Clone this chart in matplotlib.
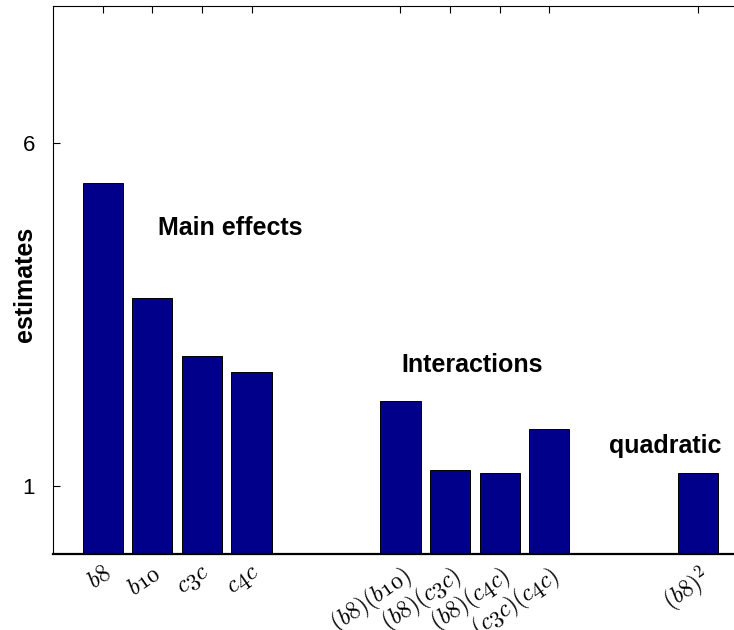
import matplotlib
matplotlib.use('Agg')
import matplotlib.pyplot as plt

# factor estimates, grouped: main effects / interactions / quadratic
labels = [r'$\mathsf{b8}$', r'$\mathsf{b10}$', r'$\mathsf{c3c}$', r'$\mathsf{c4c}$',
          r'$(\mathsf{b8})(\mathsf{b10})$', r'$(\mathsf{b8})(\mathsf{c3c})$',
          r'$(\mathsf{b8})(\mathsf{c4c})$', r'$(\mathsf{c3c})(\mathsf{c4c})$',
          r'$(\mathsf{b8})^2$']
positions = [1, 2, 3, 4, 7, 8, 9, 10, 13]
estimates = [5.42, 3.73, 2.89, 2.66, 2.24, 1.23, 1.18, 1.82, 1.18]

plt.rcParams['font.family'] = ['Liberation Sans', 'DejaVu Sans']
plt.rcParams['mathtext.fontset'] = 'custom'
plt.rcParams['mathtext.rm'] = 'cmr10'
plt.rcParams['mathtext.sf'] = 'cmmi10'
plt.rcParams['mathtext.it'] = 'cmmi10'

fig = plt.figure(figsize=(7.34, 6.30), dpi=100)
ax = fig.add_axes([53 / 734, 76 / 630, 681 / 734, 548 / 630])

ax.bar(positions, estimates, width=0.81, color='#00008b', edgecolor='black', linewidth=0.7)

ax.set_xlim(0, 13.72)
ax.set_ylim(0, 8)
ax.set_yticks([1, 6])
ax.set_xticks(positions)
ax.set_xticklabels(labels, rotation=35, ha='right', va='top', rotation_mode='anchor', fontsize=17)

ax.tick_params(axis='x', bottom=False, top=True, direction='in', length=4.8, width=0.8, pad=6)
ax.tick_params(axis='y', left=True, right=False, direction='in', length=4.8, width=0.8,
               pad=13, labelsize=16)

ax.spines['right'].set_visible(False)
ax.spines['bottom'].set_linewidth(1.6)
ax.spines['left'].set_linewidth(0.8)
ax.spines['top'].set_linewidth(0.8)

ax.text(2.11, 4.65, 'Main effects', fontsize=18, weight='bold', va='baseline')
ax.text(7.01, 2.65, 'Interactions', fontsize=18, weight='bold', va='baseline')
ax.text(11.21, 1.47, 'quadratic', fontsize=18, weight='bold', va='baseline')

fig.text(25 / 734, 1 - 284 / 630, 'estimates', rotation=90, ha='center', va='center',
         fontsize=18, weight='bold')

fig.savefig('out.png', dpi=100)
